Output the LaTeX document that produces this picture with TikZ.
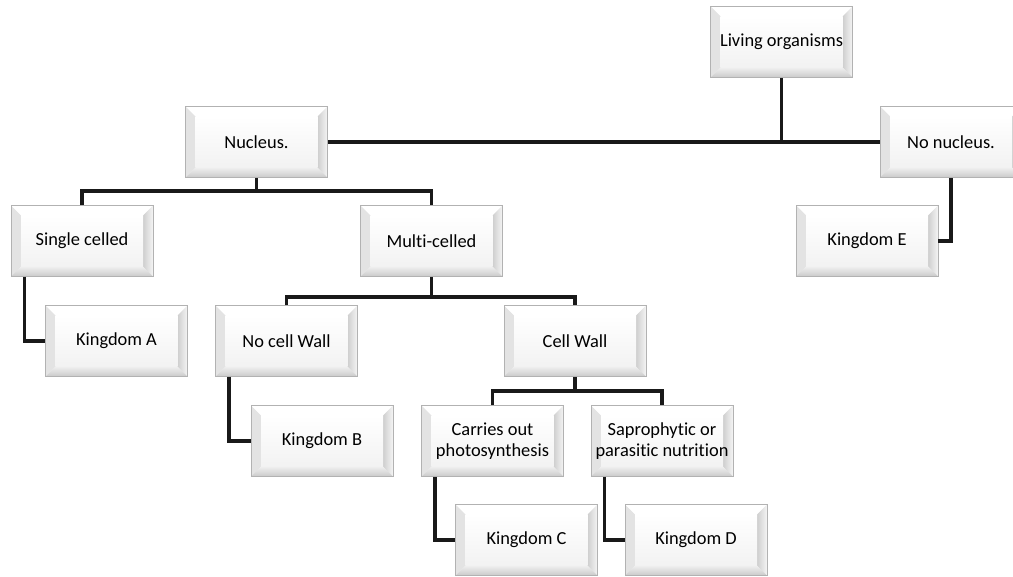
\documentclass[tikz,border=0pt]{standalone}
\usepackage{fontspec}
\setmainfont{Carlito}[Ligatures=NoCommon]
\begin{document}
\def\bd{7.5pt}
\tikzset{
  bev/.style={minimum width=106.5pt, minimum height=53.25pt, inner sep=1pt, align=center,
    font=\fontsize{13.8}{16}\selectfont, draw=gray!60, line width=0.7pt,
    path picture={
      \path (path picture bounding box.north west) coordinate (@nw)
            (path picture bounding box.north east) coordinate (@ne)
            (path picture bounding box.south west) coordinate (@sw)
            (path picture bounding box.south east) coordinate (@se);
      \fill[gray!10] (@nw) rectangle (@se);
      \fill[white] (@nw) -- (@ne) -- ([shift={(-\bd,-\bd)}]@ne) -- ([shift={(\bd,-\bd)}]@nw) -- cycle;
      \fill[gray!22] (@nw) -- ([shift={(\bd,-\bd)}]@nw) -- ([shift={(\bd,\bd)}]@sw) -- (@sw) -- cycle;
      \shade[left color=gray!38, right color=gray!8] (@ne) -- ([shift={(-\bd,-\bd)}]@ne) -- ([shift={(-\bd,\bd)}]@se) -- (@se) -- cycle;
      \shade[top color=gray!12, bottom color=gray!42] (@sw) -- ([shift={(\bd,\bd)}]@sw) -- ([shift={(-\bd,\bd)}]@se) -- (@se) -- cycle;
      \shade[top color=white, bottom color=gray!10] ([shift={(\bd,-\bd)}]@nw) rectangle ([shift={(-\bd,\bd)}]@se);
    }},
  conn/.style={line width=2.5pt, black!90}
}
\begin{tikzpicture}[x=0.75pt, y=-0.75pt]
\useasboundingbox (0,0) rectangle (1013,576);
\node[bev] (living)  at (781.5,42)  {Living organisms};
\node[bev] (nucleus) at (256.5,142) {Nucleus.};
\node[bev] (nonuc)   at (951,142)   {No nucleus.};
\node[bev] (single)  at (82,241)    {Single celled};
\node[bev] (multi)   at (431.5,241) {Multi-celled};
\node[bev] (kingE)   at (867,241)   {Kingdom E};
\node[bev] (kingA)   at (116.5,341) {Kingdom A};
\node[bev] (nowall)  at (286.5,341) {No cell Wall};
\node[bev] (wall)    at (575,341)   {Cell Wall};
\node[bev] (kingB)   at (322,441)   {Kingdom B};
\node[bev] (carries) at (492.5,441) {Carries out\\photosynthesis};
\node[bev] (sapro)   at (662,441)   {Saprophytic or\\parasitic nutrition};
\node[bev] (kingC)   at (526.5,540) {Kingdom C};
\node[bev] (kingD)   at (696,540)   {Kingdom D};

\coordinate (j1) at (256.5,191);
\coordinate (j2) at (431.5,297);
\coordinate (j3) at (575,391);

\draw[conn] (living.south) -- (living.south |- nonuc.west);
\draw[conn] (nucleus.east) -- (nonuc.west);
\draw[conn] (nucleus.south) -- (j1);
\draw[conn] (single.north) |- (j1) -| (multi.north);
\draw[conn] ([xshift=10.5pt]single.south west) |- (kingA.west);
\draw[conn] (multi.south) -- (j2);
\draw[conn] (nowall.north) |- (j2) -| (wall.north);
\draw[conn] ([xshift=10.5pt]nowall.south west) |- (kingB.west);
\draw[conn] (wall.south) -- (j3);
\draw[conn] (carries.north) |- (j3) -| (sapro.north);
\draw[conn] ([xshift=10.5pt]carries.south west) |- (kingC.west);
\draw[conn] ([xshift=10.5pt]sapro.south west) |- (kingD.west);
\draw[conn] (nonuc.south) |- (kingE.east);
\end{tikzpicture}
\end{document}
